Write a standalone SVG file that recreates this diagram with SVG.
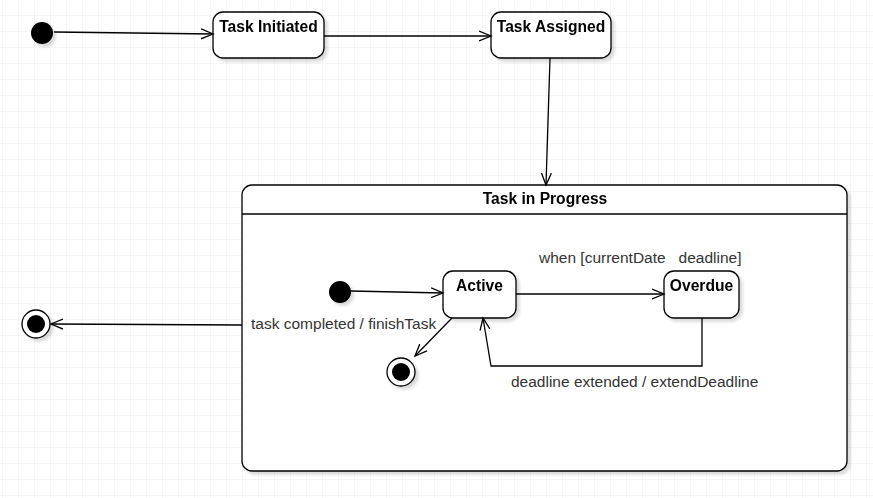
<svg xmlns="http://www.w3.org/2000/svg" width="873" height="498" viewBox="0 0 873 498">
<defs>
<pattern id="grid" x="2" y="15" width="16" height="16" patternUnits="userSpaceOnUse">
<path d="M0,0 H16 M0,0 V16" fill="none" stroke="#ebebeb" stroke-width="1"/>
</pattern>
<filter id="sh" x="-20%" y="-20%" width="150%" height="150%">
<feGaussianBlur in="SourceAlpha" stdDeviation="1.5"/>
<feOffset dx="3" dy="3" result="b"/>
<feComponentTransfer><feFuncA type="linear" slope="0.15"/></feComponentTransfer>
<feMerge><feMergeNode/><feMergeNode in="SourceGraphic"/></feMerge>
</filter>
<marker id="arr" markerUnits="userSpaceOnUse" markerWidth="14" markerHeight="12" refX="12" refY="5" orient="auto" viewBox="0 0 14 10">
<path d="M0,0 L12,5 L0,10" fill="none" stroke="#000" stroke-width="1.3"/>
</marker>
</defs>
<style>
.st{fill:#fff;stroke:#000;stroke-width:1.3}
.nm{font-family:"Liberation Sans",Arial,sans-serif;font-size:15.6px;font-weight:bold;text-anchor:middle;fill:#000}
.lb{font-family:"Liberation Sans",Arial,sans-serif;font-size:15.5px;fill:#333;white-space:pre}
.ln{fill:none;stroke:#000;stroke-width:1.3;marker-end:url(#arr)}
</style>
<rect width="873" height="498" fill="#fff"/>
<rect width="873" height="498" fill="url(#grid)"/>

<g id="init1" filter="url(#sh)"><circle cx="42" cy="33" r="11" fill="#000"/></g>
<g id="taskInitiated" filter="url(#sh)">
<rect class="st" x="213" y="12" width="111" height="46" rx="10"/>
<text class="nm" x="268.5" y="32">Task Initiated</text>
</g>
<g id="taskAssigned" filter="url(#sh)">
<rect class="st" x="491" y="12" width="120" height="46" rx="10"/>
<text class="nm" x="551" y="32">Task Assigned</text>
</g>
<g id="taskInProgress" filter="url(#sh)">
<rect class="st" x="242" y="185" width="605" height="286" rx="10"/>
<line x1="242" y1="214" x2="847" y2="214" stroke="#000" stroke-width="1.3"/>
<text class="nm" x="545" y="204">Task in Progress</text>
</g>
<g id="init2" filter="url(#sh)"><circle cx="340" cy="292" r="11" fill="#000"/></g>
<g id="active" filter="url(#sh)">
<rect class="st" x="443" y="271" width="73" height="47" rx="10"/>
<text class="nm" x="479.5" y="291">Active</text>
</g>
<g id="overdue" filter="url(#sh)">
<rect class="st" x="664" y="271" width="75" height="47" rx="10"/>
<text class="nm" x="701.5" y="291">Overdue</text>
</g>
<g id="final2" filter="url(#sh)">
<circle class="st" cx="401" cy="372" r="14"/>
<circle cx="401" cy="372" r="9" fill="#000"/>
</g>
<g id="final1" filter="url(#sh)">
<circle class="st" cx="36" cy="324" r="14"/>
<circle cx="36" cy="324" r="9" fill="#000"/>
</g>

<g id="connectors">
<path class="ln" d="M54,32 L213,34"/>
<path class="ln" d="M324,36 L491,36"/>
<path class="ln" d="M550,58 L546,185"/>
<path class="ln" d="M351,291 L443,293"/>
<path class="ln" d="M516,294 L664,294"/>
<path class="ln" d="M702,318 L702,366 L491,366 L483,318"/>
<path class="ln" d="M452,318 L415,356"/>
<path class="ln" d="M242,325 L51,324"/>
<text class="lb" x="539" y="263">when [currentDate   deadline]</text>
<text class="lb" x="511" y="387">deadline extended / extendDeadline</text>
<text class="lb" x="251" y="329">task completed / finishTask</text>
</g>
</svg>
